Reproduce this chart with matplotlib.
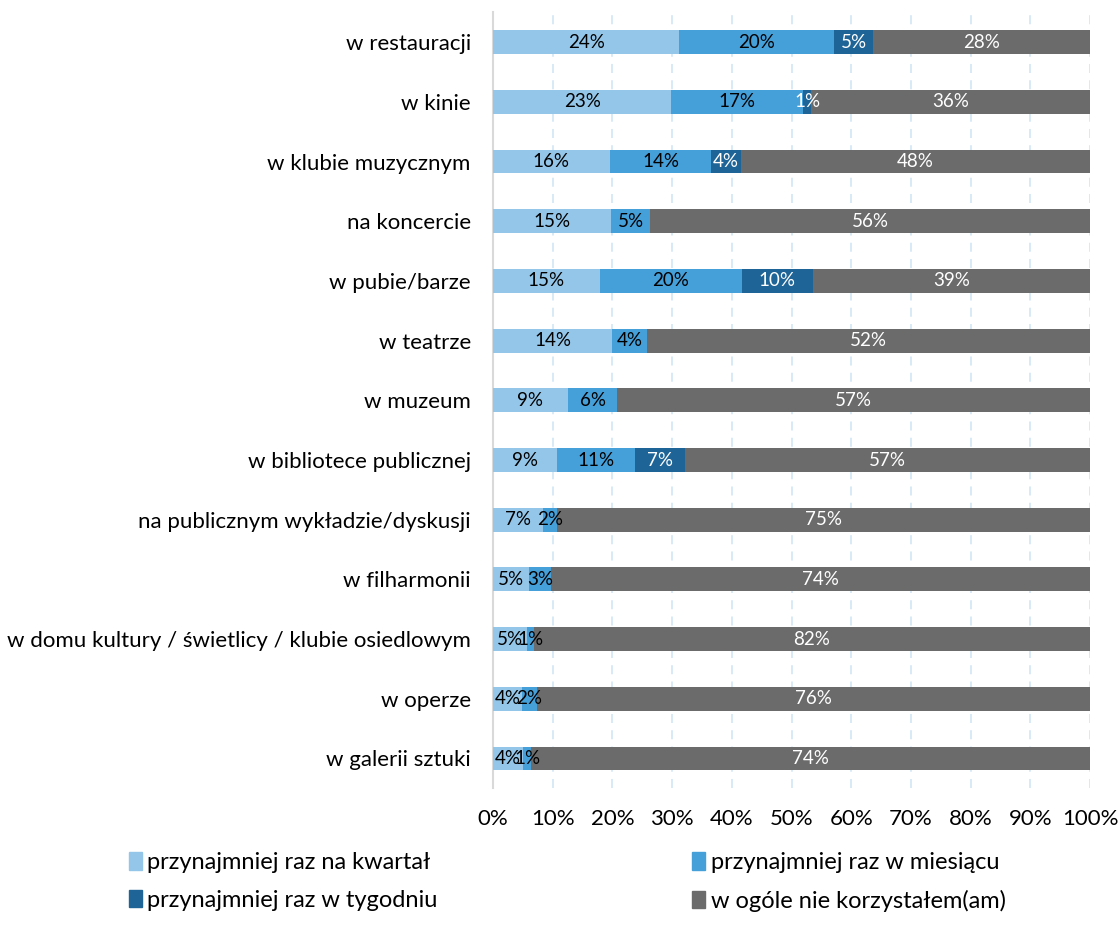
import numpy as np
import matplotlib.pyplot as plt
from matplotlib.patches import Patch

plt.rcParams['font.family'] = ['Lato', 'DejaVu Sans']

kategorie = ['w restauracji', 'w kinie', 'w klubie muzycznym', 'na koncercie',
             'w pubie/barze', 'w teatrze', 'w muzeum', 'w bibliotece publicznej',
             'na publicznym wykładzie/dyskusji', 'w filharmonii',
             'w domu kultury / świetlicy / klubie osiedlowym', 'w operze',
             'w galerii sztuki']
kwartal = [24, 23, 16, 15, 15, 14, 9, 9, 7, 5, 5, 4, 4]
miesiac = [20, 17, 14, 5, 20, 4, 6, 11, 2, 3, 1, 2, 1]
tydzien = [5, 1, 4, 0, 10, 0, 0, 7, 0, 0, 0, 0, 0]
nigdy = [28, 36, 48, 56, 39, 52, 57, 57, 75, 74, 82, 76, 74]

serie = ['przynajmniej raz na kwartał', 'przynajmniej raz w miesiącu',
         'przynajmniej raz w tygodniu', 'w ogóle nie korzystałem(am)']
kolory = ['#93C6E9', '#459FD9', '#1F6497', '#6B6B6B']
kolor_tekstu = ['black', 'black', 'white', 'white']

dane = np.array([kwartal, miesiac, tydzien, nigdy], dtype=float)
suma = dane.sum(axis=0)
udzial = dane / suma

fig = plt.figure(figsize=(11.18, 9.43), dpi=100)
ax = fig.add_axes([0.441, 0.164, 0.534, 0.823])

y = np.arange(len(kategorie))
lewo = np.zeros(len(kategorie))
for i in range(4):
    ax.barh(y, udzial[i], left=lewo, height=0.4, color=kolory[i], zorder=3)
    for j in range(len(kategorie)):
        if dane[i, j] > 0:
            ax.text(lewo[j] + udzial[i, j] / 2, y[j], '{:.0f}%'.format(dane[i, j]),
                    ha='center', va='center', fontsize=13.5,
                    color=kolor_tekstu[i], zorder=4)
    lewo += udzial[i]

ax.set_xlim(0, 1)
ax.set_ylim(len(kategorie) - 0.5, -0.5)
ax.set_yticks(y)
ax.set_yticklabels(kategorie, fontsize=16)
ax.set_xticks(np.arange(0, 1.01, 0.1))
ax.set_xticklabels(['{}%'.format(v) for v in range(0, 101, 10)], fontsize=16)
ax.tick_params(length=0)
ax.tick_params(axis='x', pad=15)
ax.tick_params(axis='y', pad=16)
ax.grid(axis='x', color='#D5E8F7', linestyle=(0, (5, 4)), linewidth=1.3, zorder=0)
for s in ['top', 'right', 'bottom']:
    ax.spines[s].set_visible(False)
ax.spines['left'].set_color('#D9D9D9')
ax.spines['left'].set_linewidth(1.5)

# kolejnosc jak w oryginale: wierszami
kol = [0, 2, 1, 3]
uchwyty = [Patch(color=kolory[k]) for k in kol]
fig.legend(uchwyty, [serie[k] for k in kol], ncol=2, mode='expand', frameon=False,
           bbox_to_anchor=(0.115, 0.033, 0.785, 0.08), loc='lower left',
           fontsize=17, handlelength=0.55, handleheight=0.75, handletextpad=0.25,
           labelspacing=0.7, borderaxespad=0.0, borderpad=0.0)

fig.savefig('out.png', dpi=100)
